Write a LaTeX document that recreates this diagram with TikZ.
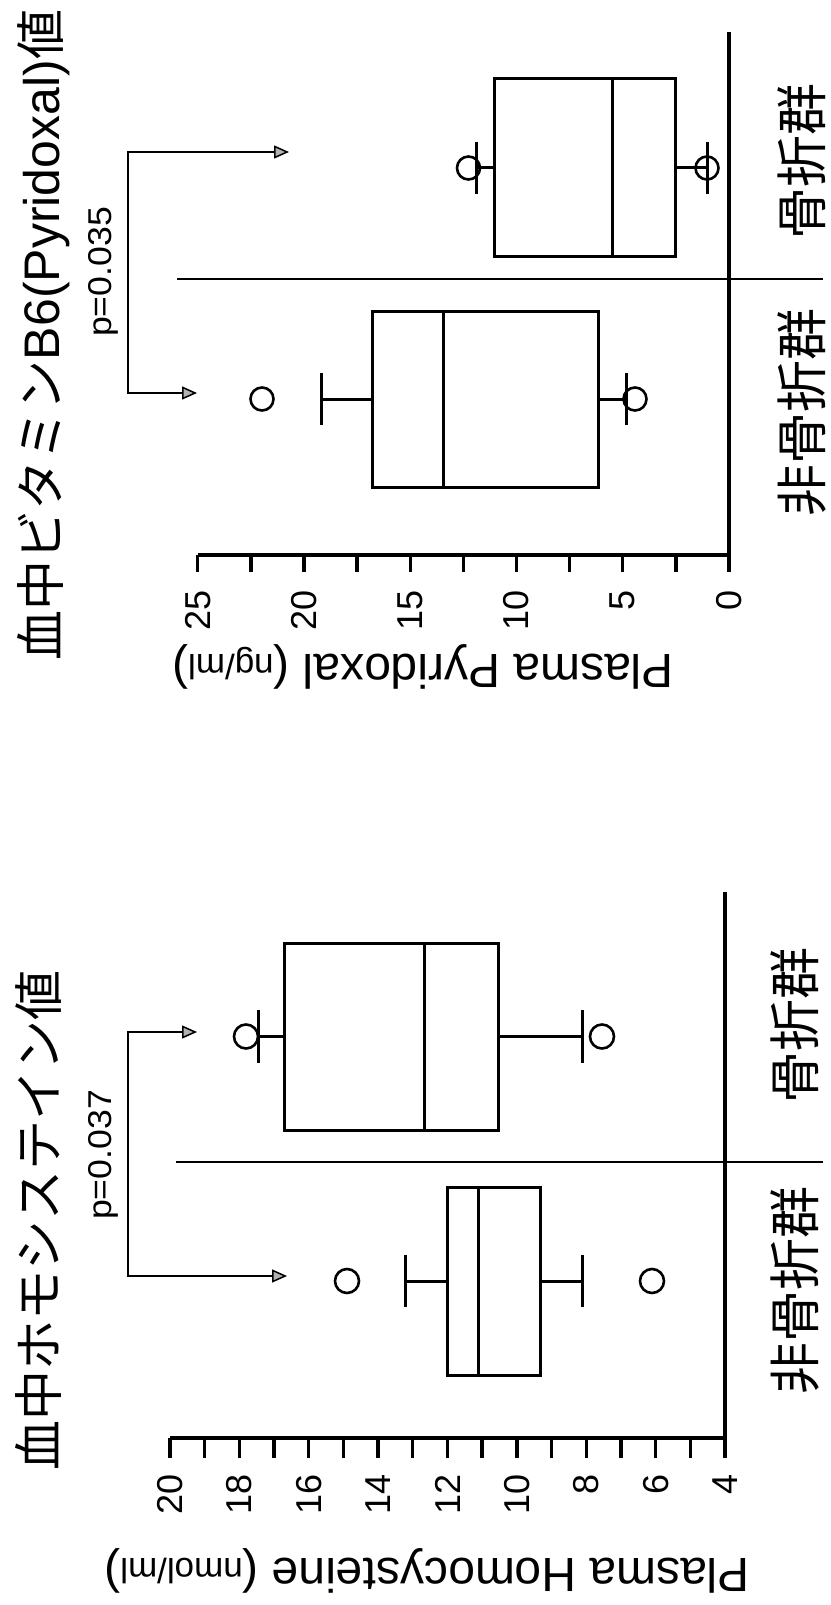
\documentclass[tikz,border=0pt]{standalone}
\usepackage{fontspec}
\setmainfont{Liberation Sans}
\newfontfamily\jp{Noto Sans CJK JP}
\usetikzlibrary{arrows.meta}
\begin{document}
\begin{tikzpicture}[x=1pt,y=-1pt,
  boxst/.style={line width=3pt},
  whisk/.style={line width=3pt},
  outl/.style={line width=2.6pt},
  axisst/.style={line width=3.4pt},
  tickst/.style={line width=3.4pt},
  divst/.style={line width=1.6pt},
  brk/.style={line width=1.5pt,
    {Triangle[length=15pt,width=13pt,fill=gray!60]}-{Triangle[length=15pt,width=13pt,fill=gray!60]}},
  ttl/.style={rotate=90, anchor=base, inner sep=0pt, font=\fontsize{50}{60}\selectfont},
  ptxt/.style={rotate=90, anchor=base, inner sep=0pt, font=\fontsize{33}{38}\selectfont},
  tlab/.style={rotate=90, anchor=east, inner sep=0pt, font=\fontsize{36}{40}\selectfont},
  alab/.style={rotate=180, anchor=base, inner sep=0pt, font=\fontsize{48}{56}\selectfont},
  clab/.style={rotate=90, anchor=center, inner sep=0pt, font=\jp\fontsize{52}{60}\selectfont},
]
\fill[white] (0,0) rectangle (830,1605);
\useasboundingbox (0,0) rectangle (830,1605);

% ================= TOP PANEL (Pyridoxal) =================
\node[ttl] (tiA) at (59,335) {{\jp 血中ビタミン}B6(Pyridoxal){\jp 値}};
\node[ptxt] (pA) at (111,272) {\scalebox{1.08}[1]{p=0.035}};

\coordinate (tUa) at (289,152);
\coordinate (bUa) at (128,152);
\coordinate (bLa) at (128,393);
\coordinate (tLa) at (197,393);
\draw[brk] (tUa) -- (bUa) -- (bLa) -- (tLa);

\draw[axisst] (729,32) -- (729,555) -- (197.75,555);
\foreach \v in {0,2.5,5,7.5,10,12.5,15,17.5,20,22.5,25}
  \draw[tickst] ({729-21.25*\v},555) -- ({729-21.25*\v},572);
\foreach \v in {0,5,10,15,20,25}
  \node[tlab] (tA\v) at ({729-21.25*\v},590) {\v};
\node[alab] (alA) at (423,654) {Plasma Pyridoxal ({\fontsize{35}{40}\selectfont ng/ml})};

\draw[divst] (177,279) -- (823,279);

% fracture group
\draw[boxst] (494,79) rectangle (675,257);
\draw[boxst] (612,79) -- (612,257);
\draw[whisk] (494,168) -- (476,168);
\draw[whisk] (476,142) -- (476,194);
\draw[whisk] (675,168) -- (707,168);
\draw[whisk] (707,142) -- (707,194);
\draw[outl] (468.5,168) circle[radius=11.5];
\draw[outl] (707,168) circle[radius=11.5];

% non-fracture group
\draw[boxst] (372,311) rectangle (598,487);
\draw[boxst] (443,311) -- (443,487);
\draw[whisk] (372,399) -- (321,399);
\draw[whisk] (321,373) -- (321,425);
\draw[whisk] (598,399) -- (626,399);
\draw[whisk] (626,373) -- (626,425);
\draw[outl] (262,399) circle[radius=11.5];
\draw[outl] (635,399) circle[radius=11.5];

\node[clab] (c1A) at (802,412) {非骨折群};
\node[clab] (c2A) at (802,162) {骨折群};

% ================= BOTTOM PANEL (Homocysteine) =================
\node[ttl] (tiB) at (57,1220) {{\jp 血中ホモシステイン値}};
\node[ptxt] (pB) at (111,1155) {\scalebox{1.08}[1]{p=0.037}};

\coordinate (tUb) at (197,1032);
\coordinate (bUb) at (128,1032);
\coordinate (bLb) at (128,1276);
\coordinate (tLb) at (287,1276);
\draw[brk] (tUb) -- (bUb) -- (bLb) -- (tLb);

\draw[axisst] (725,892) -- (725,1438) -- (170,1438);
\foreach \v in {4,...,20}
  \draw[tickst] ({725-34.69*(\v-4)},1438) -- ({725-34.69*(\v-4)},1458);
\foreach \v in {4,6,...,20}
  \node[tlab] (tB\v) at ({725-34.69*(\v-4)},1474) {\v};
\node[alab] (alB) at (427,1558) {Plasma Homocysteine ({\fontsize{35}{40}\selectfont nmol/ml})};

\draw[divst] (176,1162) -- (823,1162);

% fracture group
\draw[boxst] (284,943) rectangle (498,1130);
\draw[boxst] (424,943) -- (424,1130);
\draw[whisk] (284,1036.5) -- (258,1036.5);
\draw[whisk] (258,1010) -- (258,1063);
\draw[whisk] (498,1036.5) -- (582,1036.5);
\draw[whisk] (582,1010) -- (582,1063);
\draw[outl] (246,1036.5) circle[radius=12];
\draw[outl] (602,1036.5) circle[radius=12];

% non-fracture group
\draw[boxst] (447,1187) rectangle (540,1375);
\draw[boxst] (478,1187) -- (478,1375);
\draw[whisk] (447,1281) -- (405,1281);
\draw[whisk] (405,1255) -- (405,1307);
\draw[whisk] (540,1281) -- (582,1281);
\draw[whisk] (582,1255) -- (582,1307);
\draw[outl] (347,1281) circle[radius=12];
\draw[outl] (652,1281) circle[radius=12];

\node[clab] (c1B) at (795,1290) {非骨折群};
\node[clab] (c2B) at (795,1025) {骨折群};
\end{tikzpicture}
\end{document}
